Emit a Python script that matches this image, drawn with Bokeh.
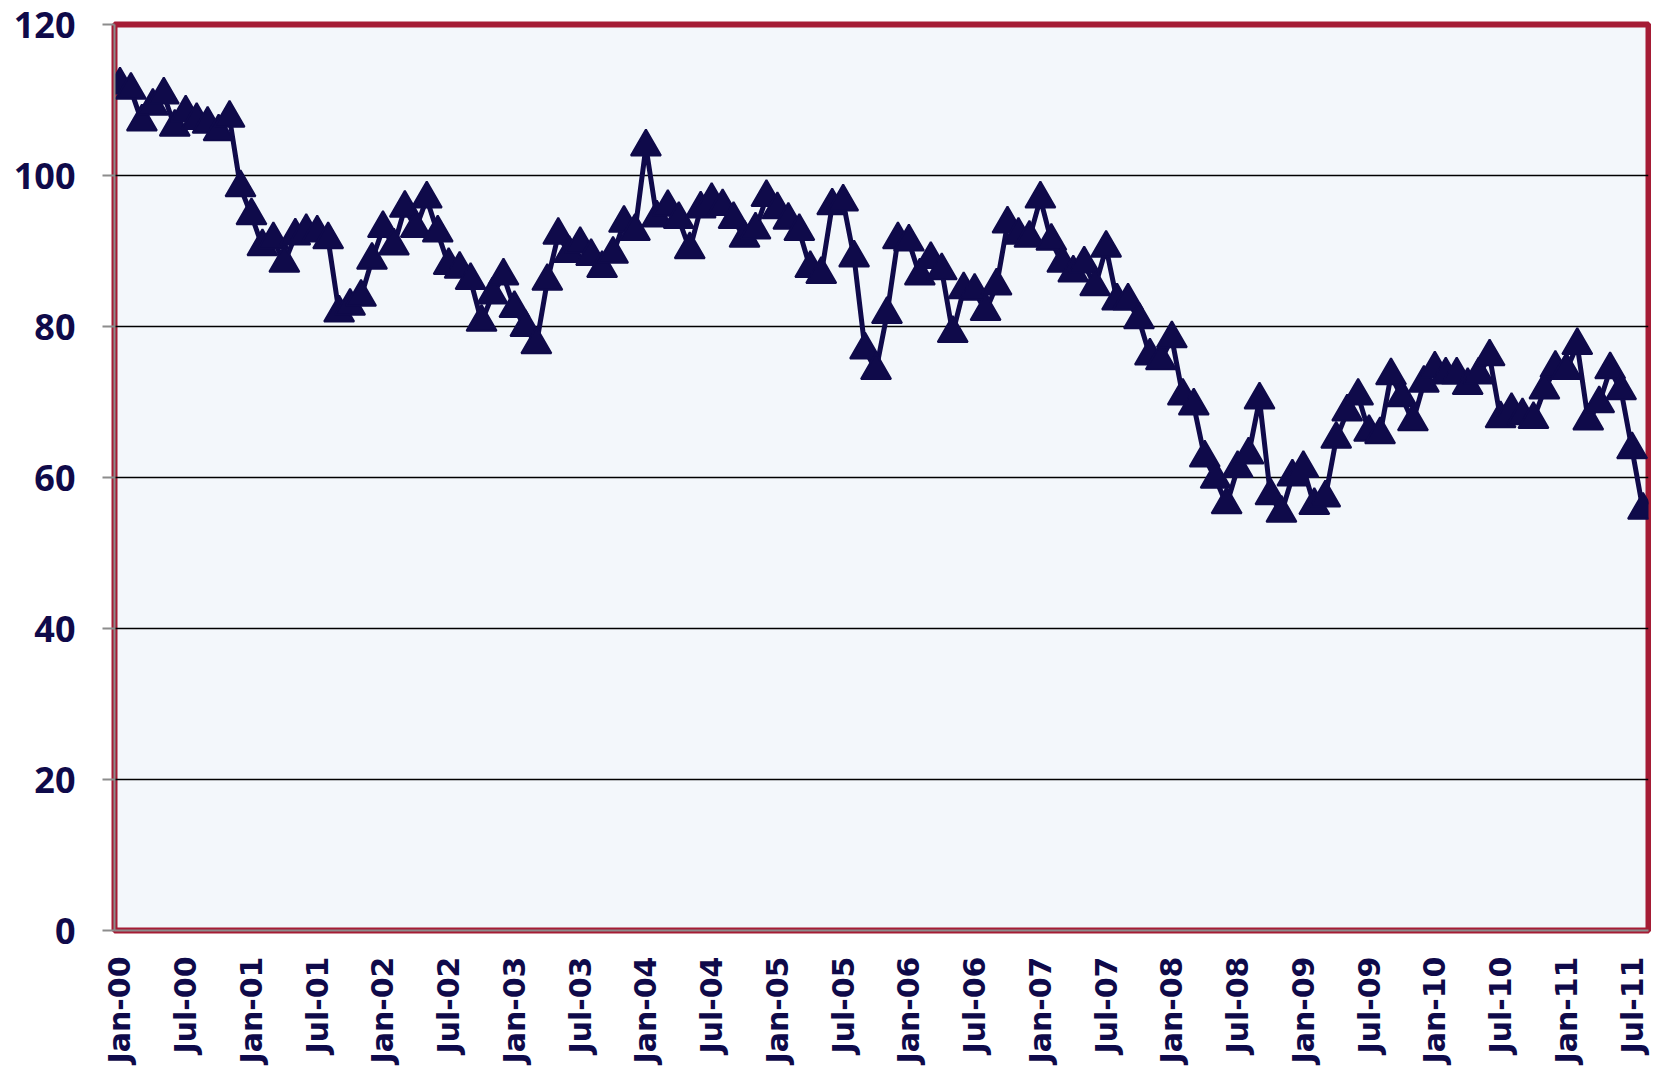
import math
from bokeh.plotting import figure
from bokeh.models import Range1d, FixedTicker, ColumnDataSource
from bokeh.embed import file_html
from bokeh.resources import INLINE

# Monthly index values, Jan-2000 .. Aug-2011
values_2000 = [112.0, 111.3, 107.1, 109.2, 110.7, 106.4, 108.3, 107.3, 106.8, 105.8, 107.6, 98.4]
values_2001 = [94.7, 90.6, 91.5, 88.4, 92.0, 92.6, 92.4, 91.5, 81.8, 82.7, 83.9, 88.8]
values_2002 = [93.0, 90.7, 95.7, 93.0, 96.9, 92.4, 88.1, 87.6, 86.1, 80.6, 84.2, 86.7]
values_2003 = [82.4, 79.9, 77.6, 86.0, 92.1, 89.7, 90.9, 89.3, 87.7, 89.6, 93.7, 92.6]
values_2004 = [103.8, 94.4, 95.8, 94.2, 90.2, 95.6, 96.7, 95.9, 94.2, 91.7, 92.8, 97.1]
values_2005 = [95.5, 94.1, 92.6, 87.7, 86.9, 96.0, 96.5, 89.1, 76.9, 74.2, 81.6, 91.5]
values_2006 = [91.2, 86.7, 88.9, 87.4, 79.1, 84.9, 84.7, 82.0, 85.4, 93.6, 92.1, 91.7]
values_2007 = [96.9, 91.3, 88.4, 87.1, 88.3, 85.3, 90.4, 83.4, 83.4, 80.9, 76.1, 75.5]
values_2008 = [78.4, 70.8, 69.5, 62.6, 59.8, 56.4, 61.2, 63.0, 70.3, 57.6, 55.3, 60.1]
values_2009 = [61.2, 56.3, 57.3, 65.1, 68.7, 70.8, 66.0, 65.7, 73.5, 70.6, 67.4, 72.5]
values_2010 = [74.4, 73.6, 73.6, 72.2, 73.6, 76.0, 67.8, 68.9, 68.2, 67.7, 71.6, 74.5]
values_2011 = [74.2, 77.5, 67.5, 69.8, 74.3, 71.5, 63.7, 55.7]

values = (values_2000 + values_2001 + values_2002 + values_2003 + values_2004 + values_2005
          + values_2006 + values_2007 + values_2008 + values_2009 + values_2010 + values_2011)

tick_labels = ["Jan-00", "Jul-00", "Jan-01", "Jul-01", "Jan-02", "Jul-02", "Jan-03", "Jul-03",
               "Jan-04", "Jul-04", "Jan-05", "Jul-05", "Jan-06", "Jul-06", "Jan-07", "Jul-07",
               "Jan-08", "Jul-08", "Jan-09", "Jul-09", "Jan-10", "Jul-10", "Jan-11", "Jul-11"]
tick_step = 6
y_ticks = [0, 20, 40, 60, 80, 100, 120]

NAVY = "#0f0a4a"
CRIMSON = "#a51c35"
GRAY = "#8c8c8c"

x = list(range(len(values)))
src = ColumnDataSource(data=dict(x=x, y=values))

p = figure(width=1651, height=1066, output_backend="svg", toolbar_location=None,
           x_range=Range1d(-0.5, len(values) - 0.5), y_range=Range1d(0, 120),
           min_border_left=114, min_border_right=3, min_border_top=24, min_border_bottom=0)

p.background_fill_color = "#f3f7fb"
p.border_fill_color = "white"
p.outline_line_color = CRIMSON
p.outline_line_width = 6

p.xgrid.visible = False
p.ygrid.grid_line_color = "black"
p.ygrid.grid_line_width = 1.5
p.ygrid.ticker = FixedTicker(ticks=y_ticks)

# y axis
ya = p.yaxis[0]
ya.ticker = FixedTicker(ticks=y_ticks)
ya.major_label_text_font = "Open Sans"
ya.major_label_text_font_style = "bold"
ya.major_label_text_font_size = "36px"
ya.major_label_text_color = NAVY
ya.major_tick_out = 12
ya.major_tick_in = 0
ya.major_tick_line_color = GRAY
ya.major_tick_line_width = 2
ya.minor_tick_line_color = None
ya.axis_line_color = GRAY
ya.axis_line_width = 2
ya.major_label_standoff = 27

# x axis
xa = p.xaxis[0]
tick_pos = [i * tick_step for i in range(len(tick_labels))]
xa.ticker = FixedTicker(ticks=tick_pos)
xa.major_label_overrides = {t: lab for t, lab in zip(tick_pos, tick_labels)}
xa.major_label_orientation = math.pi / 2
xa.major_label_text_font = "DejaVu Sans"
xa.major_label_text_font_style = "bold"
xa.major_label_text_font_size = "30px"
xa.major_label_text_color = NAVY
xa.major_tick_out = 0
xa.major_tick_in = 0
xa.minor_tick_line_color = None
xa.axis_line_color = GRAY
xa.axis_line_width = 2
xa.major_label_standoff = 26

p.line("x", "y", source=src, line_color=NAVY, line_width=5)
p.scatter("x", "y", source=src, marker="triangle", size=30,
          fill_color=NAVY, line_color=NAVY, line_width=2)

open("out.html", "w").write(file_html(p, INLINE))
